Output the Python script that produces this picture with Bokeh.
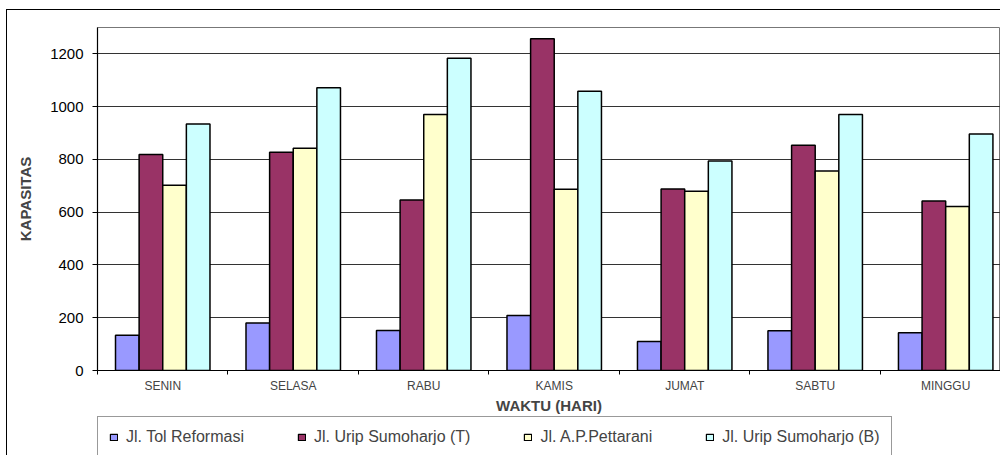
import numpy as np
from bokeh.plotting import figure
from bokeh.layouts import column
from bokeh.models import Range1d, FixedTicker, ColumnDataSource, Legend, LegendItem
from bokeh.embed import file_html
from bokeh.resources import INLINE

days = ["SENIN", "SELASA", "RABU", "KAMIS", "JUMAT", "SABTU", "MINGGU"]
series_names = ["Jl. Tol Reformasi", "Jl. Urip Sumoharjo (T)", "Jl. A.P.Pettarani", "Jl. Urip Sumoharjo (B)"]
tol_reformasi = [134, 180, 152, 208, 110, 151, 143]
urip_t = [819, 827, 646, 1257, 688, 854, 642]
pettarani = [702, 842, 970, 687, 679, 756, 622]
urip_b = [934, 1072, 1183, 1058, 794, 970, 896]
colors = ["#9999FF", "#993366", "#FFFFCC", "#CCFFFF"]
y_ticks = [0, 200, 400, 600, 800, 1000, 1200]

FONT = "Liberation Sans"
bar_w = 0.181
series = [tol_reformasi, urip_t, pettarani, urip_b]

p = figure(width=993, height=406, output_backend="svg", toolbar_location=None,
           x_range=Range1d(0, 6.92), y_range=Range1d(0, 1300),
           min_border_left=90, min_border_right=0, min_border_top=17, min_border_bottom=44)
p.background_fill_color = "white"
p.border_fill_color = "white"
p.outline_line_color = "#777777"
p.outline_line_width = 1

centers = np.arange(len(days)) + 0.5
for k, vals in enumerate(series):
    src = ColumnDataSource(dict(x=centers + (k - 1.5) * bar_w, top=vals))
    p.vbar(x="x", top="top", width=bar_w, bottom=0, source=src,
           fill_color=colors[k], line_color="black", line_width=1.5)

# y axis
p.yaxis.ticker = FixedTicker(ticks=y_ticks)
p.yaxis.axis_label = "KAPASITAS"
p.yaxis.axis_label_text_font = FONT
p.yaxis.axis_label_text_font_style = "bold"
p.yaxis.axis_label_text_font_size = "15px"
p.yaxis.axis_label_standoff = 13
p.yaxis.major_label_text_font = FONT
p.yaxis.major_label_text_font_size = "15px"
p.yaxis.major_label_text_color = "black"
p.yaxis.major_label_standoff = 9
p.yaxis.major_tick_out = 5
p.yaxis.major_tick_in = 0
p.yaxis.minor_tick_out = 0
p.yaxis.minor_tick_in = 0
p.yaxis.axis_line_color = "black"
p.yaxis.axis_line_width = 1.2

# x axis
p.xaxis.ticker = FixedTicker(ticks=list(centers), minor_ticks=list(range(len(days) + 1)))
p.xaxis.major_label_overrides = {float(c): d for c, d in zip(centers, days)}
p.xaxis.major_tick_out = 0
p.xaxis.major_tick_in = 0
p.xaxis.minor_tick_out = 4
p.xaxis.minor_tick_in = 0
p.xaxis.minor_tick_line_color = "black"
p.xaxis.major_label_text_font = FONT
p.xaxis.major_label_text_font_size = "12px"
p.xaxis.major_label_standoff = 4
p.xaxis.axis_label = "WAKTU (HARI)"
p.xaxis.axis_label_text_font = FONT
p.xaxis.axis_label_text_font_style = "bold"
p.xaxis.axis_label_text_font_size = "15px"
p.xaxis.axis_label_standoff = 1
p.xaxis.axis_line_color = "black"
p.xaxis.axis_line_width = 1.2

p.xgrid.grid_line_color = None
p.ygrid.ticker = FixedTicker(ticks=y_ticks[1:])
p.ygrid.grid_line_color = "#333333"
p.ygrid.grid_line_width = 1

# legend strip (second figure; its quads lie outside its ranges, only the legend shows)
q = figure(width=993, height=47, output_backend="svg", toolbar_location=None,
           x_range=Range1d(0, 1), y_range=Range1d(-2, -1),
           x_axis_location=None, y_axis_location=None,
           min_border_left=0, min_border_right=0, min_border_top=0, min_border_bottom=0)
q.xgrid.grid_line_color = None
q.ygrid.grid_line_color = None
q.outline_line_color = None
q.background_fill_color = "white"
q.border_fill_color = "white"
leg_renderers = []
for k, vals in enumerate(series):
    xs = centers + (k - 1.5) * bar_w
    src = ColumnDataSource(dict(left=xs - bar_w / 2, right=xs + bar_w / 2, top=vals))
    leg_renderers.append(q.quad(left="left", right="right", top="top", bottom=0, source=src,
                                fill_color=colors[k], line_color="black", line_width=1.2))

legend = Legend(items=[LegendItem(label=series_names[k], renderers=[leg_renderers[k]]) for k in range(4)],
                location=(0, 5), orientation="horizontal",
                border_line_color="#333333", border_line_width=1.2,
                background_fill_color="white", background_fill_alpha=1,
                padding=11, margin=0, spacing=53,
                glyph_width=9, glyph_height=8, label_standoff=8, label_height=18,
                label_text_font=FONT, label_text_font_size="16px")
q.add_layout(legend, "center")

layout = column(p, q, spacing=0)
layout.margin = (9, 0, 0, 6)
layout.styles = {"border": "1px solid black"}

open("out.html", "w").write(file_html(layout, INLINE))
